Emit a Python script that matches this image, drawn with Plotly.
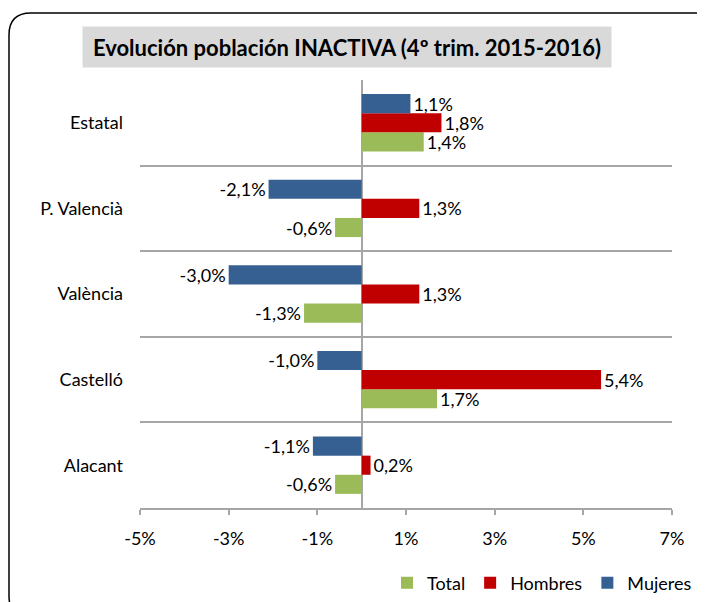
import plotly.graph_objects as go

categories = ["Estatal", "P. Valencià", "València", "Castelló", "Alacant"]
total = [1.4, -0.6, -1.3, 1.7, -0.6]
hombres = [1.8, 1.3, 1.3, 5.4, 0.2]
mujeres = [1.1, -2.1, -3.0, -1.0, -1.1]
x_ticks = [-5, -3, -1, 1, 3, 5, 7]
x_tick_labels = ["-5%", "-3%", "-1%", "1%", "3%", "5%", "7%"]
title_text = "Evolución población INACTIVA (4º trim. 2015-2016)"

colors = {"Total": "#9BBB59", "Hombres": "#C00000", "Mujeres": "#376092"}

def fmt(v):
    return f"{v:.1f}%".replace(".", ",")

FONT = "Lato, Open Sans, sans-serif"
FS = 18

fig = go.Figure()
for name, vals in [("Total", total), ("Hombres", hombres), ("Mujeres", mujeres)]:
    fig.add_trace(go.Bar(
        name=name, y=categories, x=vals, orientation="h",
        marker=dict(color=colors[name], line=dict(width=0)),
        text=[fmt(v) for v in vals], textposition="outside",
        textfont=dict(size=FS, color="#000000", family=FONT),
        constraintext="none", cliponaxis=False,
    ))

# page is offset by the 8px body margin; coordinates below are page pixels
OFF = 8
W, H = 705 - OFF, 602 - OFF
L, R, T, B = 140 - OFF, 705 - 672, 80 - OFF, 602 - 508
pw, ph = W - L - R, H - T - B

def px(x):
    return (x - OFF - L) / pw

def py(y):
    return (H - B - (y - OFF)) / ph

# rounded border (partly off-canvas)
x0, y0, x1, y1, r = 9, 13, 720, 618, 22
path = (f"M {px(x0)},{py(y0 + r)} Q {px(x0)},{py(y0)} {px(x0 + r)},{py(y0)} "
        f"L {px(x1 - r)},{py(y0)} Q {px(x1)},{py(y0)} {px(x1)},{py(y0 + r)} "
        f"L {px(x1)},{py(y1 - r)} Q {px(x1)},{py(y1)} {px(x1 - r)},{py(y1)} "
        f"L {px(x0 + r)},{py(y1)} Q {px(x0)},{py(y1)} {px(x0)},{py(y1 - r)} Z")

fig.update_layout(
    width=W, height=H,
    margin=dict(l=L, r=R, t=T, b=B, autoexpand=False),
    paper_bgcolor="white", plot_bgcolor="white",
    font=dict(family=FONT, size=FS, color="#000000"),
    barmode="group", bargap=0.33, bargroupgap=0,
    showlegend=True,
    legend=dict(orientation="h", x=px(697), xanchor="right", y=py(583), yanchor="middle",
                font=dict(size=FS, family=FONT), traceorder="normal",
                itemwidth=30, bgcolor="rgba(0,0,0,0)"),
    xaxis=dict(range=[-5, 7], tickvals=x_ticks, ticktext=x_tick_labels,
               showgrid=False, zeroline=True, zerolinecolor="#A6A6A6", zerolinewidth=2,
               showline=True, linecolor="#A6A6A6", linewidth=1.5,
               ticks="outside", ticklen=5, tickcolor="#A6A6A6", tickwidth=1.5,
               ticklabelstandoff=9, tickfont=dict(size=FS), automargin=False),
    yaxis=dict(type="category", categoryorder="array", categoryarray=categories[::-1],
               tickson="boundaries", showgrid=True, gridcolor="#A6A6A6", gridwidth=1.5,
               showline=False, ticks="", ticklabelstandoff=16, tickfont=dict(size=FS),
               automargin=False),
    shapes=[dict(type="path", path=path, xref="paper", yref="paper",
                 line=dict(color="#000000", width=1.5), fillcolor="rgba(0,0,0,0)", layer="below")],
    annotations=[dict(text=f"<b>{title_text}</b>", xref="paper", yref="paper",
                      x=px(347), y=py(47), xanchor="center", yanchor="middle",
                      showarrow=False, bgcolor="#D9D9D9", width=524, height=36, borderpad=2,
                      font=dict(size=22, family=FONT, color="#000000"))],
)

fig.write_html("out.html")
